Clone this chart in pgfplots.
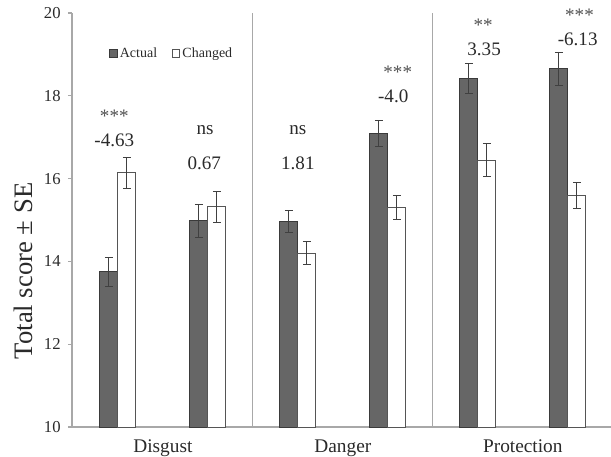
\documentclass[border=0pt]{standalone}
\usepackage{pgfplots}
\pgfplotsset{compat=1.18}
\usepackage{fontspec}
\setmainfont{Liberation Serif}
\definecolor{actfill}{HTML}{666666}
\definecolor{actdraw}{HTML}{3A3A3A}
\definecolor{chgdraw}{HTML}{555555}
\definecolor{axgray}{HTML}{A8A8A8}
\definecolor{txt}{HTML}{2A2A2A}
\definecolor{star}{HTML}{505050}
\begin{document}
\begin{tikzpicture}
\path[use as bounding box] (-54pt,-22.5pt) rectangle (404.25pt,320.25pt);
\begin{axis}[
  at={(0,0)}, anchor=south west,
  scale only axis, width=404.25pt, height=310.5pt,
  xmin=-0.51, xmax=5.48, ymin=10, ymax=20,
  clip mode=individual,
  axis lines*=left,
  axis line style={axgray, line width=0.8pt},
  ybar, bar width=0.2,
  ytick={10,12,...,20},
  xtick={0.5,2.5,4.5},
  xticklabels={Disgust,Danger,Protection},
  xtick style={draw=none},
  ytick style={axgray, line width=0.8pt},
  tick align=outside, major tick length=3pt,
  extra x ticks={1.5,3.5}, extra x tick labels={},
  extra x tick style={grid=major, major grid style={axgray, line width=0.8pt}, tick style={draw=none}},
  /pgf/number format/assume math mode=true,
  yticklabel style={font=\fontsize{12.5}{13}\selectfont, text=txt, xshift=-2pt},
  xticklabel style={font=\fontsize{14.5}{15}\selectfont, text=txt, yshift=-3pt},
  ylabel={Total score ± SE},
  ylabel style={at={(rel axis cs:0,0.377)}, anchor=south, inner sep=0pt, yshift=29.25pt, font=\fontsize{20}{22}\selectfont, text=txt},
  legend style={at={(axis cs:-0.10,19.03)}, anchor=west, draw=none, fill=none, legend columns=2,
     font=\fontsize{10.5}{11}\selectfont, text=txt, inner sep=0pt,
     /tikz/every even column/.append style={column sep=9pt}},
  legend cell align=left,
  error bars/error bar style={black!75, line width=0.6pt},
  error bars/error mark options={rotate=90, black!75, mark size=3pt, line width=0.6pt},
]
\addplot[fill=actfill, draw=actdraw, line width=0.6pt, bar shift=-0.1,
  error bars/.cd, y dir=both, y explicit,
  /pgfplots/legend image code/.code={\draw[fill=actfill, draw=actdraw, line width=0.4pt] (0pt,-2.8pt) rectangle (5.6pt,2.8pt);}]
  coordinates {(0,13.75) +- (0,0.35) (1,14.98) +- (0,0.40) (2,14.97) +- (0,0.26)
               (3,17.09) +- (0,0.32) (4,18.42) +- (0,0.36) (5,18.66) +- (0,0.40)};
\addlegendentry{Actual}
\addplot[fill=white, draw=chgdraw, line width=0.6pt, bar shift=0.1,
  error bars/.cd, y dir=both, y explicit,
  /pgfplots/legend image code/.code={\draw[fill=white, draw=chgdraw, line width=0.4pt] (0pt,-2.8pt) rectangle (5.6pt,2.8pt);}]
  coordinates {(0,16.14) +- (0,0.37) (1,15.32) +- (0,0.38) (2,14.20) +- (0,0.28)
               (3,15.31) +- (0,0.29) (4,16.45) +- (0,0.39) (5,15.59) +- (0,0.32)};
\addlegendentry{Changed}
\begin{scope}[every node/.style={font=\fontsize{14.3}{15}\selectfont, text=txt, inner sep=0pt}]
\node[text=star] at (axis cs:-0.04,17.50) {***};
\node at (axis cs:-0.04,16.93) {-4.63};
\node at (axis cs:0.97,17.17) {ns};
\node at (axis cs:0.96,16.38) {0.67};
\node at (axis cs:2.0,17.17) {ns};
\node at (axis cs:2.0,16.38) {1.81};
\node[text=star] at (axis cs:3.11,18.58) {***};
\node at (axis cs:3.06,17.98) {-4.0};
\node[text=star] at (axis cs:4.06,19.71) {**};
\node at (axis cs:4.07,19.12) {3.35};
\node[text=star] at (axis cs:5.13,19.94) {***};
\node at (axis cs:5.11,19.36) {-6.13};
\end{scope}
\end{axis}
\end{tikzpicture}
\end{document}
